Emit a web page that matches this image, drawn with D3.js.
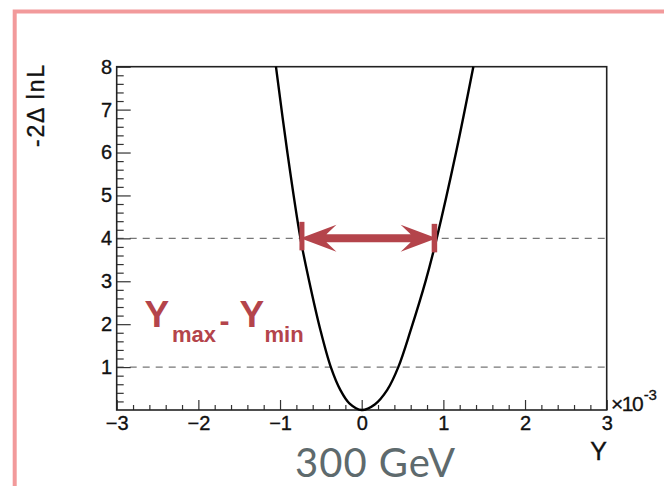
<!DOCTYPE html>
<html>
<head>
<meta charset="utf-8">
<script src="https://cdn.jsdelivr.net/npm/d3@7"></script>
<style>
  html, body { margin: 0; padding: 0; background: #fff; }
  svg { display: block; }
  .tick text { font-family: "Liberation Sans", Arial, Helvetica, sans-serif; stroke: #111; stroke-width: 0.35px; }
</style>
</head>
<body>
<svg id="chart" width="664" height="486"></svg>
<script>
// Likelihood scan: Y (in units of 1e-3) vs -2ΔlnL
const scanY   = [-1.05, -0.91, -0.75, -0.645, -0.505, -0.378, -0.262, -0.148, 0, 0.16, 0.313, 0.448, 0.60, 0.785, 0.918, 1.155, 1.367];
const scanNLL = [8.0, 6.0, 4.0, 3.02, 1.86, 1.0, 0.47, 0.15, 0, 0.13, 0.47, 1.0, 1.86, 3.02, 4.0, 6.0, 8.0];

// Reference levels (dashed) and the interval marked at -2ΔlnL = 4
const levels = [1, 4];
const interval = { lo: -0.75, hi: 0.918, level: 4 };

// Axis ticks
const xMajor = [-3, -2, -1, 0, 1, 2, 3];
const yMajor = [1, 2, 3, 4, 5, 6, 7, 8];
const xDomain = [-3, 3];
const yDomain = [0, 8];

const svg = d3.select("#chart");
const red = "#b4444b";
const sans = "'Liberation Sans', Arial, Helvetica, sans-serif";

// outer pink panel border
svg.append("path")
  .attr("d", "M14.7,486 V11.5 H664")
  .attr("fill", "none")
  .attr("stroke", "#f29a9b")
  .attr("stroke-width", 4);

const L = 116.7, R = 606.7, T = 66.7, B = 410;
const x = d3.scaleLinear().domain(xDomain).range([L, R]);
const y = d3.scaleLinear().domain(yDomain).range([B, T]);

// dashed reference levels
svg.append("g").selectAll("line").data(levels).join("line")
  .attr("x1", L).attr("x2", R)
  .attr("y1", d => y(d)).attr("y2", d => y(d))
  .attr("stroke", "#777")
  .attr("stroke-width", 1.3)
  .attr("stroke-dasharray", "7,6");

// minor ticks every 0.2
const isWhole = v => Math.abs(v - Math.round(v)) < 1e-6;
const xMinor = d3.range(-3, 3.0001, 0.2).map(v => +v.toFixed(2)).filter(v => !isWhole(v));
const yMinor = d3.range(0, 8.0001, 0.2).map(v => +v.toFixed(2)).filter(v => !isWhole(v));

const axisStyle = g => {
  g.select(".domain").remove();
  g.selectAll(".tick line").attr("stroke", "#333").attr("stroke-width", 1.2);
};

svg.append("g").attr("transform", `translate(0,${B})`)
  .call(d3.axisBottom(x).tickValues(xMinor).tickSize(-5).tickSizeOuter(0).tickFormat(""))
  .call(axisStyle);
svg.append("g").attr("transform", `translate(0,${B})`)
  .call(d3.axisBottom(x).tickValues(xMajor).tickSize(-10).tickSizeOuter(0).tickPadding(6).tickFormat(d3.format("d")))
  .call(axisStyle)
  .call(g => g.selectAll(".tick text").attr("font-size", 20).attr("fill", "#111"));

svg.append("g").attr("transform", `translate(${L},0)`)
  .call(d3.axisLeft(y).tickValues(yMinor).tickSize(-7).tickSizeOuter(0).tickFormat(""))
  .call(axisStyle);
svg.append("g").attr("transform", `translate(${L},0)`)
  .call(d3.axisLeft(y).tickValues(yMajor).tickSize(-14).tickSizeOuter(0).tickPadding(4.5).tickFormat(d3.format("d")))
  .call(axisStyle)
  .call(g => g.selectAll(".tick text").attr("font-size", 20).attr("fill", "#111"));

// frame
svg.append("rect")
  .attr("x", L).attr("y", T).attr("width", R - L).attr("height", B - T)
  .attr("fill", "none").attr("stroke", "#222").attr("stroke-width", 1.6);

// scan curve
const pts = scanY.map((v, i) => [v, scanNLL[i]]);
svg.append("path")
  .datum(pts)
  .attr("d", d3.line().x(d => x(d[0])).y(d => y(d[1])).curve(d3.curveCatmullRom.alpha(0.5)))
  .attr("fill", "none")
  .attr("stroke", "#000")
  .attr("stroke-width", 2.4);

// double-headed interval arrow
const ax0 = x(interval.lo), ax1 = x(interval.hi), ay = y(interval.level);
const headLen = 36, headHalf = 13.5, notch = 26, shaft = 4;
const arrowPts = [
  [ax0, ay],
  [ax0 + headLen, ay - headHalf],
  [ax0 + notch, ay - shaft],
  [ax1 - notch, ay - shaft],
  [ax1 - headLen, ay - headHalf],
  [ax1, ay],
  [ax1 - headLen, ay + headHalf],
  [ax1 - notch, ay + shaft],
  [ax0 + notch, ay + shaft],
  [ax0 + headLen, ay + headHalf]
];
svg.append("polygon")
  .attr("points", arrowPts.map(p => p.join(",")).join(" "))
  .attr("fill", red);
svg.append("rect").attr("x", ax0 - 1).attr("y", ay - 16.5).attr("width", 5).attr("height", 28.5).attr("fill", red);
svg.append("rect").attr("x", ax1 - 5).attr("y", ay - 14.5).attr("width", 5.5).attr("height", 28.5).attr("fill", red);

// interval label
const lab = svg.append("g")
  .attr("font-family", sans)
  .attr("font-weight", "bold")
  .attr("fill", red);
lab.append("text").attr("x", 144.5).attr("y", 326.7).attr("font-size", 37).text("Y");
lab.append("text").attr("x", 172).attr("y", 341.7).attr("font-size", 22).text("max");
lab.append("text").attr("x", 219.5).attr("y", 330.5).attr("font-size", 30).text("-");
lab.append("text").attr("x", 239.5).attr("y", 326.7).attr("font-size", 37).text("Y");
lab.append("text").attr("x", 264.5).attr("y", 341.7).attr("font-size", 22).text("min");

// axis titles
svg.append("text")
  .attr("transform", "translate(43.5,65) rotate(-90)")
  .attr("text-anchor", "end")
  .attr("font-family", sans)
  .attr("font-size", 23)
  .attr("textLength", 82)
  .attr("lengthAdjust", "spacing")
  .attr("fill", "#111")
  .attr("stroke", "#111").attr("stroke-width", 0.35)
  .text("-2Δ lnL");

svg.append("text")
  .attr("x", 607).attr("y", 460)
  .attr("text-anchor", "end")
  .attr("font-family", sans)
  .attr("font-size", 25)
  .attr("fill", "#111")
  .attr("stroke", "#111").attr("stroke-width", 0.35)
  .text("Y");

// exponent marker
const ex = svg.append("text")
  .attr("x", 611).attr("y", 410.7)
  .attr("font-family", sans)
  .attr("fill", "#111")
  .attr("stroke", "#111").attr("stroke-width", 0.3);
ex.append("tspan").attr("font-size", 21).attr("letter-spacing", -1.5).text("×10");
ex.append("tspan").attr("font-size", 15).attr("dx", 1.5).attr("dy", -11).text("-3");

// energy label
svg.append("text")
  .attr("x", 295).attr("y", 476.7)
  .attr("font-family", "Lato, 'Open Sans', sans-serif")
  .attr("font-size", 40)
  .attr("textLength", 160)
  .attr("lengthAdjust", "spacing")
  .attr("fill", "#5e6a6d")
  .text("300 GeV");
</script>
</body>
</html>
